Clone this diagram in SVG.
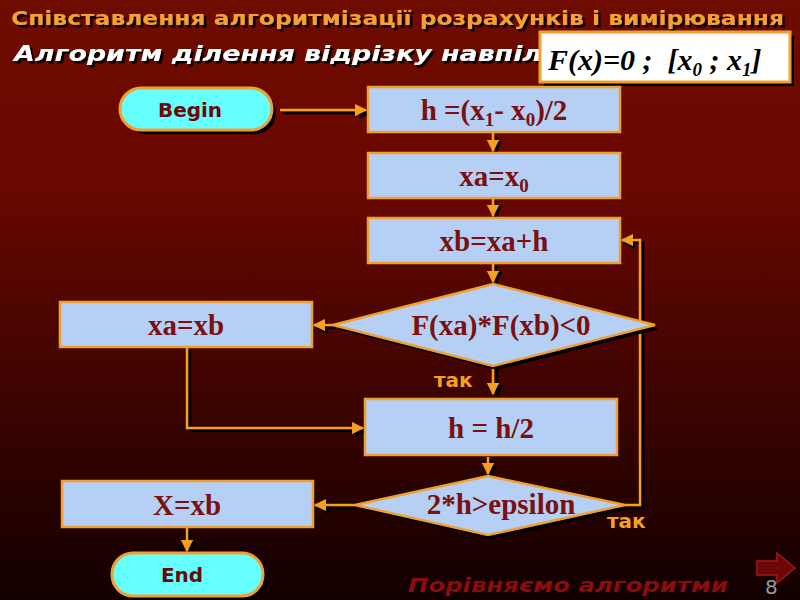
<svg xmlns="http://www.w3.org/2000/svg" width="800" height="600" viewBox="0 0 800 600">
<defs>
<linearGradient id="bg" x1="0" y1="0" x2="0" y2="1">
<stop offset="0" stop-color="#6e0c00"/>
<stop offset="0.3" stop-color="#6a0800"/>
<stop offset="1" stop-color="#120000"/>
</linearGradient>
<filter id="tsh" x="-5%" y="-30%" width="110%" height="160%">
<feDropShadow dx="2.5" dy="2.5" stdDeviation="0.5" flood-color="#000" flood-opacity="1"/>
</filter>
<marker id="ah" viewBox="0 0 10 10" refX="9" refY="5" markerWidth="5" markerHeight="5" orient="auto-start-reverse" markerUnits="strokeWidth">
<path d="M0,0 L10,5 L0,10 z" fill="#f5a020"/>
</marker>
<marker id="ahs" viewBox="0 0 10 10" refX="9" refY="5" markerWidth="5" markerHeight="5" orient="auto-start-reverse" markerUnits="strokeWidth">
<path d="M0,0 L10,5 L0,10 z" fill="#000"/>
</marker>
</defs>
<style>
.box{fill:#b5cff5;stroke:#f0a030;stroke-width:2.5}
.sh{fill:#000}
.pill{fill:#66ffff;stroke:#f0a030;stroke-width:3}
.t{font-family:"Liberation Serif",serif;font-weight:bold;font-size:29px;fill:#7a1010;text-anchor:middle}
.ps{font-family:"DejaVu Sans",sans-serif;font-weight:bold;font-size:20px;fill:#6a0808;text-anchor:middle}
.c{fill:none;stroke:#f5a020;stroke-width:2.5;marker-end:url(#ah)}
.cs{fill:none;stroke:#000;stroke-width:2.5;marker-end:url(#ahs)}
.lab{font-family:"DejaVu Sans",sans-serif;font-weight:bold;font-size:20px;fill:#f5a020}
</style>
<rect width="800" height="600" fill="url(#bg)"/>

<g id="title">
<text x="11" y="25" font-family="DejaVu Sans,sans-serif" font-weight="bold" font-size="20" fill="#f5a030" textLength="773" lengthAdjust="spacingAndGlyphs" filter="url(#tsh)">Співставлення алгоритмізації розрахунків і вимірювання</text>
</g>
<g id="subtitle">
<text x="14" y="61" font-family="DejaVu Sans,sans-serif" font-weight="bold" font-style="italic" font-size="22" fill="#fff" textLength="528" lengthAdjust="spacingAndGlyphs" filter="url(#tsh)">Алгоритм ділення відрізку навпіл</text>
</g>
<g id="formula">
<rect x="544" y="36" width="250" height="50" class="sh"/>
<rect x="540" y="32" width="250" height="50" fill="#fff" stroke="#f0a030" stroke-width="3"/>
<text x="548" y="70" font-family="Liberation Serif,serif" font-style="italic" font-weight="bold" font-size="30" fill="#000" xml:space="preserve">F(x)=0 ;  [x<tspan font-size="19" dy="6">0</tspan><tspan dy="-6"> ; x</tspan><tspan font-size="19" dy="6">1</tspan><tspan dy="-6">]</tspan></text>
</g>

<g id="connectors">
<path class="cs" d="M283,113 H370"/>
<path class="c" d="M280,110 H366"/>
<path class="cs" d="M496,136 V152"/>
<path class="c" d="M493,133 V151"/>
<path class="cs" d="M496,201 V217"/>
<path class="c" d="M493,198 V216"/>
<path class="cs" d="M496,266 V283"/>
<path class="c" d="M493,263 V282"/>
<path class="cs" d="M336,328 H317"/>
<path class="c" d="M333,325 H314"/>
<path class="cs" d="M190,350 V431 H366"/>
<path class="c" d="M187,347 V428 H363"/>
<path class="cs" d="M497,369 V396" stroke-width="5"/>
<path class="c" d="M493,366 V394" stroke-width="5"/>
<path class="cs" d="M491,460 V476"/>
<path class="c" d="M488,457 V474"/>
<path class="cs" d="M628,508 H643 V243 H624"/>
<path class="c" d="M625,505 H640 V240 H622"/>
<path class="cs" d="M358,508 H318"/>
<path class="c" d="M355,505 H315"/>
<path class="cs" d="M190,530 V553"/>
<path class="c" d="M187,527 V551"/>
</g>

<g id="begin">
<rect x="124" y="92" width="152" height="42" rx="21" class="sh"/>
<rect x="120" y="88" width="152" height="42" rx="21" class="pill"/>
<text x="190" y="117" class="ps">Begin</text>
</g>
<g id="n1">
<rect x="368" y="87" width="252" height="45" class="box"/>
<text x="494" y="120" class="t">h =(x<tspan font-size="19" dy="6">1</tspan><tspan dy="-6">- x</tspan><tspan font-size="19" dy="6">0</tspan><tspan dy="-6">)/2</tspan></text>
</g>
<g id="n2">
<rect x="368" y="153" width="252" height="45" class="box"/>
<text x="494" y="186" class="t">xa=x<tspan font-size="19" dy="6">0</tspan></text>
</g>
<g id="n3">
<rect x="368" y="218" width="252" height="45" class="box"/>
<text x="494" y="251" class="t">xb=xa+h</text>
</g>
<g id="d1">
<polygon points="497,288 659,329 497,370 337,329" class="sh"/>
<polygon points="493,284 655,325 493,366 333,325" class="box"/>
<text x="501" y="335" class="t">F(xa)*F(xb)&lt;0</text>
</g>
<g id="n4">
<rect x="60" y="302" width="252" height="45" class="box"/>
<text x="186" y="335" class="t">xa=xb</text>
</g>
<text x="434" y="387" class="lab">так</text>
<g id="n5">
<rect x="365" y="399" width="252" height="56" class="box"/>
<text x="491" y="438" class="t">h = h/2</text>
</g>
<g id="d2">
<polygon points="492,480 629,509 492,539 359,509" class="sh"/>
<polygon points="488,476 625,505 488,535 355,505" class="box"/>
<text x="501" y="514" class="t">2*h&gt;epsilon</text>
</g>
<text x="607" y="528" class="lab">так</text>
<g id="n6">
<rect x="62" y="481" width="251" height="46" class="box"/>
<text x="187" y="515" class="t">X=xb</text>
</g>
<g id="end">
<rect x="116" y="557" width="151" height="43" rx="21" class="sh"/>
<rect x="112" y="553" width="151" height="43" rx="21" class="pill"/>
<text x="182" y="582" class="ps">End</text>
</g>

<g id="footer">
<text x="408" y="592" font-family="DejaVu Sans,sans-serif" font-weight="bold" font-style="italic" font-size="19" fill="#8a0c0c" textLength="320" lengthAdjust="spacingAndGlyphs">Порівняємо  алгоритми</text>
<text x="765" y="594" font-family="DejaVu Sans,sans-serif" font-size="20" fill="#9a9a9a">8</text>
<polygon points="757,561 777,561 777,553 795,568 777,583 777,575 757,575" fill="#6a0808" stroke="#a01818" stroke-width="1.5"/>
</g>
</svg>
